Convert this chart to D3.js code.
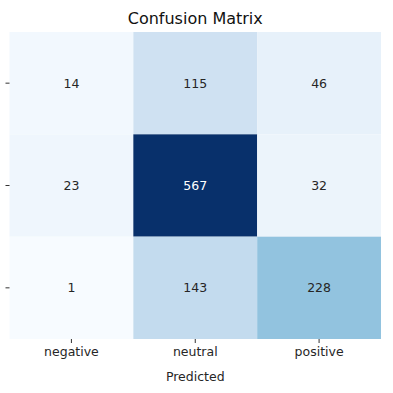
<!DOCTYPE html>
<html><head><meta charset="utf-8">
<script src="https://cdn.jsdelivr.net/npm/d3@7"></script>
<style>body{margin:0;background:#fff}svg{display:block}</style>
</head><body>
<svg id="c" width="393" height="393"></svg>
<script>
const labels = ["negative", "neutral", "positive"];
const row_negative = [14, 115, 46];
const row_neutral = [23, 567, 32];
const row_positive = [1, 143, 228];
const matrix = [row_negative, row_neutral, row_positive];

const svg = d3.select("#c");
const L = 9.5, R = 381, T = 32, B = 339;
const FS = 12.5;
const x = d3.scaleBand().domain(labels).range([L, R]);
const y = d3.scaleBand().domain(labels).range([T, B]);
const all = matrix.flat();
const color = d3.scaleSequential(d3.interpolateBlues).domain([d3.min(all), d3.max(all)]);

const cells = [];
matrix.forEach((row, i) => row.forEach((v, j) => cells.push({r: labels[i], c: labels[j], v})));

svg.selectAll("rect.cell").data(cells).join("rect")
  .attr("class", "cell")
  .attr("x", d => x(d.c)).attr("y", d => y(d.r))
  .attr("width", x.bandwidth()).attr("height", y.bandwidth())
  .attr("fill", d => color(d.v));

const thresh = (d3.min(all) + d3.max(all)) / 2;
svg.selectAll("text.val").data(cells).join("text")
  .attr("class", "val")
  .attr("x", d => x(d.c) + x.bandwidth() / 2)
  .attr("y", d => y(d.r) + y.bandwidth() / 2)
  .attr("dy", "0.35em")
  .attr("text-anchor", "middle")
  .attr("font-family", "DejaVu Sans")
  .attr("font-size", FS)
  .attr("fill", d => d.v > thresh ? "#ffffff" : "#262626")
  .text(d => d.v);

// x axis
const xa = svg.append("g").attr("transform", `translate(0,${B})`)
  .call(d3.axisBottom(x).tickSize(4).tickPadding(4));
xa.select(".domain").remove();
xa.selectAll("line").attr("stroke", "#333").attr("stroke-width", 1);
xa.selectAll("text").attr("font-family", "DejaVu Sans").attr("font-size", FS).attr("fill", "#262626");

// y axis (labels rotated, mostly outside the visible area)
const ya = svg.append("g").attr("transform", `translate(${L},0)`)
  .call(d3.axisLeft(y).tickSize(4).tickPadding(4));
ya.select(".domain").remove();
ya.selectAll("line").attr("stroke", "#333").attr("stroke-width", 1);
ya.selectAll("text").attr("font-family", "DejaVu Sans").attr("font-size", FS).attr("fill", "#262626")
  .attr("text-anchor", "middle").attr("dy", 0).attr("x", 0).attr("y", 0)
  .attr("transform", "translate(-12.5,0) rotate(-90)");

svg.append("text").attr("x", (L + R) / 2).attr("y", 380.5)
  .attr("text-anchor", "middle").attr("font-family", "DejaVu Sans").attr("font-size", FS)
  .attr("fill", "#262626").text("Predicted");
svg.append("text").attr("x", 0).attr("y", 0)
  .attr("text-anchor", "middle").attr("font-family", "DejaVu Sans").attr("font-size", FS)
  .attr("fill", "#262626")
  .attr("transform", `translate(-30,${(T + B) / 2}) rotate(-90)`).text("True");

svg.append("text").attr("x", (L + R) / 2).attr("y", 24)
  .attr("text-anchor", "middle").attr("font-family", "DejaVu Sans").attr("font-size", 16)
  .attr("fill", "#111").text("Confusion Matrix");
</script>
</body></html>
